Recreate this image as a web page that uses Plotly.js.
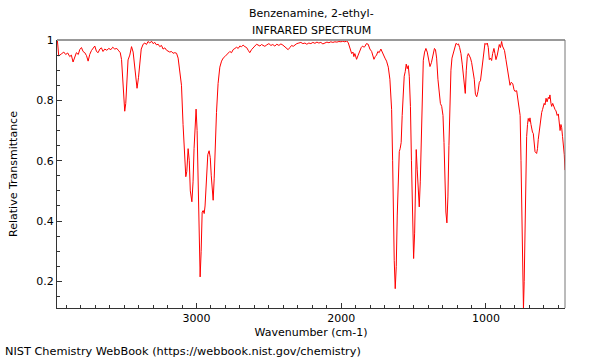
<!DOCTYPE html>
<html>
<head>
<meta charset="utf-8">
<script src="https://cdn.plot.ly/plotly-3.0.1.min.js"></script>
<style>html,body{margin:0;padding:0;background:#fff;}#chart{width:600px;height:360px;}</style>
</head>
<body>
<div id="chart"></div>
<script>
const wavenumber = [3961,3952,3931,3917,3904,3890,3876,3865,3853,3841,3830,3817,3807,3795,3784,3772,3760,3749,3738,3726,3715,3703,3691,3680,3668,3657,3646,3634,3620,3606,3592,3579,3565,3551,3537,3527,3518,3509,3503,3496,3489,3482,3473,3461,3449,3438,3429,3420,3411,3401,3392,3382,3369,3357,3346,3335,3323,3311,3300,3288,3277,3265,3254,3242,3231,3219,3207,3196,3185,3173,3162,3150,3138,3127,3115,3104,3093,3081,3074,3067,3058,3050,3043,3032,3024,3017,3010,3003,2996,2989,2982,2975,2968,2961,2954,2947,2941,2931,2922,2913,2905,2898,2891,2885,2878,2871,2862,2851,2839,2827,2816,2804,2793,2782,2770,2758,2747,2735,2723,2712,2701,2689,2678,2666,2654,2643,2632,2620,2609,2597,2585,2574,2562,2551,2540,2528,2514,2500,2486,2473,2459,2445,2431,2417,2403,2390,2378,2367,2355,2343,2332,2320,2307,2293,2279,2265,2251,2238,2224,2210,2196,2182,2168,2155,2141,2127,2113,2099,2085,2072,2058,2044,2030,2016,2002,1989,1975,1961,1951,1940,1928,1919,1913,1906,1894,1883,1871,1862,1852,1843,1837,1826,1814,1802,1790,1781,1774,1765,1756,1747,1738,1726,1714,1705,1698,1687,1675,1664,1652,1645,1640,1634,1627,1620,1613,1606,1599,1593,1586,1579,1572,1565,1558,1551,1544,1537,1530,1522,1515,1508,1500,1493,1487,1482,1475,1468,1461,1454,1447,1440,1433,1424,1415,1406,1398,1387,1377,1366,1356,1349,1341,1332,1323,1315,1306,1297,1290,1283,1277,1270,1263,1256,1249,1242,1235,1226,1216,1207,1198,1190,1182,1173,1164,1156,1149,1143,1136,1129,1122,1116,1107,1099,1090,1081,1073,1064,1055,1046,1038,1030,1023,1014,1007,1000,991,984,977,969,961,954,945,938,931,922,914,908,900,892,886,880,872,862,854,846,839,834,825,815,806,800,788,777,770,764,758,753,749,744,741,736,730,724,719,713,708,701,696,689,684,679,673,667,661,650,644,639,632,627,620,615,609,604,598,592,585,578,569,563,558,551,546,539,530,523,516,508,500,494,488,482,477,471,466,459,454];
const transmittance = [0.997,0.947,0.955,0.96,0.952,0.957,0.945,0.95,0.927,0.945,0.958,0.952,0.968,0.975,0.962,0.958,0.948,0.93,0.952,0.965,0.972,0.98,0.962,0.958,0.97,0.974,0.962,0.97,0.966,0.972,0.968,0.976,0.97,0.972,0.964,0.958,0.935,0.87,0.80,0.764,0.79,0.88,0.934,0.95,0.978,0.96,0.925,0.87,0.84,0.875,0.93,0.97,0.986,0.99,0.985,0.995,0.99,0.996,0.988,0.992,0.984,0.986,0.978,0.982,0.97,0.974,0.966,0.964,0.96,0.962,0.956,0.958,0.956,0.94,0.89,0.85,0.72,0.6,0.547,0.565,0.64,0.6,0.5,0.464,0.53,0.64,0.74,0.771,0.70,0.55,0.35,0.215,0.3,0.43,0.435,0.425,0.45,0.56,0.62,0.633,0.61,0.55,0.48,0.469,0.54,0.65,0.76,0.856,0.91,0.93,0.94,0.945,0.95,0.955,0.962,0.958,0.968,0.972,0.976,0.972,0.98,0.978,0.983,0.978,0.975,0.966,0.958,0.968,0.975,0.98,0.986,0.984,0.98,0.985,0.982,0.979,0.984,0.988,0.982,0.985,0.98,0.986,0.982,0.987,0.983,0.978,0.972,0.968,0.975,0.982,0.979,0.985,0.988,0.99,0.992,0.988,0.99,0.986,0.99,0.988,0.992,0.989,0.993,0.99,0.992,0.987,0.99,0.993,0.991,0.994,0.992,0.994,0.993,0.995,0.994,0.996,0.994,0.997,0.99,0.975,0.955,0.96,0.945,0.955,0.936,0.95,0.965,0.975,0.98,0.976,0.978,0.988,0.986,0.97,0.962,0.945,0.936,0.945,0.95,0.962,0.958,0.97,0.955,0.95,0.94,0.93,0.91,0.87,0.77,0.6,0.42,0.27,0.176,0.25,0.42,0.58,0.63,0.64,0.66,0.75,0.85,0.88,0.895,0.92,0.905,0.915,0.88,0.78,0.6,0.4,0.276,0.36,0.5,0.637,0.57,0.48,0.447,0.53,0.7,0.84,0.933,0.96,0.972,0.96,0.94,0.912,0.925,0.955,0.972,0.968,0.94,0.87,0.81,0.79,0.78,0.75,0.66,0.53,0.43,0.394,0.48,0.65,0.8,0.9,0.94,0.958,0.975,0.989,0.985,0.987,0.975,0.955,0.92,0.88,0.83,0.823,0.9,0.945,0.955,0.95,0.94,0.925,0.9,0.87,0.82,0.812,0.83,0.86,0.865,0.9,0.94,0.97,0.989,0.985,0.99,0.975,0.935,0.94,0.932,0.955,0.972,0.955,0.935,0.95,0.975,0.985,0.975,0.995,0.98,0.973,0.965,0.935,0.91,0.89,0.87,0.85,0.86,0.855,0.835,0.83,0.832,0.8,0.78,0.75,0.6,0.45,0.3,0.17,0.11,0.2,0.4,0.6,0.68,0.72,0.74,0.73,0.742,0.72,0.7,0.695,0.69,0.65,0.63,0.624,0.64,0.67,0.7,0.73,0.74,0.76,0.77,0.78,0.79,0.785,0.807,0.795,0.81,0.805,0.818,0.79,0.78,0.79,0.775,0.77,0.765,0.75,0.755,0.73,0.7,0.72,0.71,0.68,0.66,0.62,0.569];

const chartTitle = ["Benzenamine, 2-ethyl-", "INFRARED SPECTRUM"];
const xTitle = "Wavenumber (cm-1)";
const yTitle = "Relative Transmittance";
const footer = "NIST Chemistry WebBook (https://webbook.nist.gov/chemistry)";

const font = "DejaVu Sans, sans-serif";

const trace = {
  x: wavenumber, y: transmittance, type: "scatter", mode: "lines",
  line: {color: "rgb(255,0,0)", width: 1}, hoverinfo: "skip"
};

const layout = {
  width: 600, height: 360,
  margin: {l: 57, r: 35, t: 40, b: 52},
  paper_bgcolor: "#fff", plot_bgcolor: "#fff",
  showlegend: false,
  font: {family: font, size: 11, color: "#000"},
  xaxis: {
    range: [3964, 454], showgrid: false, zeroline: false,
    showline: true, linecolor: "#333", linewidth: 1,
    ticks: "inside", ticklen: 5, tickcolor: "#333",
    tick0: 0, dtick: 1000,
    minor: {dtick: 100, ticks: "inside", ticklen: 3, tickcolor: "#333"},
    tickfont: {family: font, size: 11},
    title: {text: xTitle, font: {family: font, size: 11}, standoff: 4}
  },
  yaxis: {
    range: [0.112, 1.0], showgrid: false, zeroline: false,
    showline: true, linecolor: "#333", linewidth: 1,
    ticks: "inside", ticklen: 5, tickcolor: "#333",
    tick0: 0, dtick: 0.2,
    minor: {dtick: 0.05, ticks: "inside", ticklen: 3, tickcolor: "#333"},
    tickfont: {family: font, size: 11},
    title: {text: yTitle, font: {family: font, size: 11}, standoff: 16}
  },
  shapes: [
    {type: "line", xref: "paper", yref: "paper", x0: 0, x1: 1, y0: 1, y1: 1, line: {color: "#999", width: 2}},
    {type: "line", xref: "paper", yref: "paper", x0: 1, x1: 1, y0: 0, y1: 1, line: {color: "#777", width: 1}}
  ],
  annotations: [
    {text: chartTitle[0], xref: "paper", yref: "paper", x: 0.5, y: 1, xanchor: "center", yanchor: "middle", yshift: 27, showarrow: false, font: {family: font, size: 11}},
    {text: chartTitle[1], xref: "paper", yref: "paper", x: 0.5, y: 1, xanchor: "center", yanchor: "middle", yshift: 10, showarrow: false, font: {family: font, size: 11}},
    {text: footer, xref: "paper", yref: "paper", x: -0.1063, y: -0.164, xanchor: "left", yanchor: "middle", showarrow: false, font: {family: font, size: 11.3}}
  ]
};

Plotly.newPlot("chart", [trace], layout, {displayModeBar: false, staticPlot: true});
</script>
</body>
</html>
